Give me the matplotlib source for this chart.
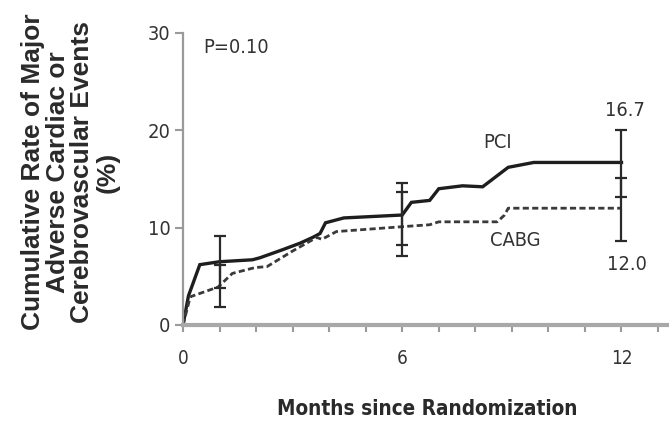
import matplotlib.pyplot as plt
from matplotlib import font_manager

# Kaplan-Meier style cumulative event curves (months, %)
pci_months = [0, 0.15, 0.46, 1.0, 1.9, 2.1, 2.7, 3.2, 3.55, 3.75, 3.9, 4.4,
              6.0, 6.25, 6.75, 7.0, 7.65, 8.2, 8.9, 9.6, 12.0]
pci_rate = [0, 3.0, 6.2, 6.5, 6.7, 6.9, 7.7, 8.4, 9.0, 9.4, 10.5, 11.0,
            11.3, 12.6, 12.8, 14.0, 14.3, 14.2, 16.2, 16.7, 16.7]

cabg_months = [0, 0.2, 0.96, 1.35, 1.97, 2.3, 3.0, 3.66, 3.8, 4.2, 6.0,
               6.75, 7.0, 8.6, 8.8, 8.9, 12.0]
cabg_rate = [0, 2.9, 3.9, 5.3, 5.9, 6.0, 7.6, 9.0, 8.8, 9.6, 10.1,
             10.3, 10.6, 10.6, 11.3, 12.0, 12.0]

# 95% confidence intervals at 1, 6 and 12 months
ci_months = [1, 6, 12]
pci_ci_value = [6.5, 11.3, 16.7]
pci_ci_low = [3.8, 8.2, 13.2]
pci_ci_high = [9.1, 14.6, 20.0]
cabg_ci_value = [3.9, 10.1, 12.0]
cabg_ci_low = [1.9, 7.1, 8.6]
cabg_ci_high = [6.2, 13.7, 15.1]

# prefer a condensed face for the horizontal labels if one is installed
fonts = font_manager.fontManager.ttflist
names = {f.name for f in fonts}
if "Liberation Sans Narrow" in names:
    narrow, stretch, shrink = "Liberation Sans Narrow", "normal", 1.1
elif any(f.name == "DejaVu Sans" and f.stretch == "condensed" for f in fonts):
    narrow, stretch, shrink = "DejaVu Sans", "condensed", 0.85
else:
    narrow, stretch, shrink = "Liberation Sans", "normal", 0.75

dark = "#1e1e1e"
axis_grey = "#9a9a9a"

fig = plt.figure(figsize=(6.69, 4.21), dpi=100)
ax = fig.add_axes([183 / 669, 96 / 421, 1 - 183 / 669, 292 / 421])

ax.plot(pci_months, pci_rate, color=dark, lw=2.4, solid_joinstyle="miter")
ax.plot(cabg_months, cabg_rate, color="#3a3a3a", lw=2.0, ls=(0, (2.2, 1.2)))

for vals, lo, hi in [(pci_ci_value, pci_ci_low, pci_ci_high),
                     (cabg_ci_value, cabg_ci_low, cabg_ci_high)]:
    yerr = [[v - l for v, l in zip(vals, lo)], [h - v for v, h in zip(vals, hi)]]
    ax.errorbar(ci_months, vals, yerr=yerr, fmt="none", ecolor="#2a2a2a",
                elinewidth=1.6, capsize=4, capthick=1.6)

ax.set_xlim(0, 13.3)
ax.set_ylim(0, 30)
ax.set_xticks(range(0, 14))
ax.set_xticklabels(["0", "", "", "", "", "", "6", "", "", "", "", "", "12", ""])
ax.set_yticks([0, 10, 20, 30])

for side in ["top", "right"]:
    ax.spines[side].set_visible(False)
ax.spines["left"].set_color(axis_grey)
ax.spines["left"].set_linewidth(1.6)
ax.spines["bottom"].set_color("#a8a8a8")
ax.spines["bottom"].set_linewidth(3)

ax.tick_params(axis="x", direction="out", length=5, width=1.5, color=axis_grey,
               pad=12, labelsize=16 * shrink, labelcolor="#333333")
ax.tick_params(axis="y", direction="out", length=6, width=1.5, color=axis_grey,
               pad=3, labelsize=17 * shrink, labelcolor="#333333")
for lab in ax.get_xticklabels() + ax.get_yticklabels():
    lab.set_family(narrow)
    lab.set_fontstretch(stretch)

txt = dict(family=narrow, fontstretch=stretch, fontsize=17 * shrink, color="#333333")
ax.text(1.45, 28.5, "P=0.10", ha="center", va="center", **txt)
ax.text(8.6, 18.8, "PCI", ha="center", va="center", **txt)
ax.text(9.1, 8.7, "CABG", ha="center", va="center", **txt)
ax.text(12.1, 22.0, "16.7", ha="center", va="center", **txt)
ax.text(12.15, 6.2, "12.0", ha="center", va="center", **txt)

fig.text(70 / 669, 1 - 172 / 421,
         "Cumulative Rate of Major\nAdverse Cardiac or\nCerebrovascular Events\n(%)",
         rotation=90, ha="center", va="center", multialignment="center",
         family="Liberation Sans", fontweight="bold", fontsize=19,
         linespacing=1.05, color="#2a2a2a")
fig.text(427 / 669, 1 - 409 / 421, "Months since Randomization",
         ha="center", va="center", family=narrow, fontstretch=stretch,
         fontweight="bold", fontsize=17.5 * shrink, color="#2a2a2a")

fig.savefig("out.png", dpi=100)
